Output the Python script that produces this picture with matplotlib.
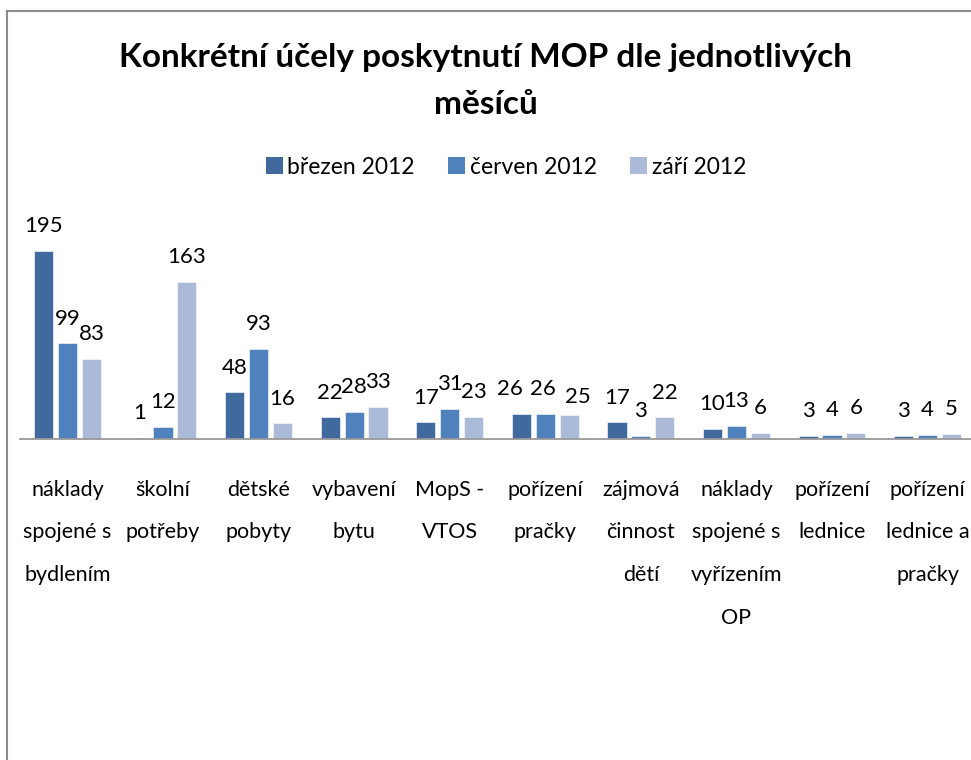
import numpy as np
import matplotlib
matplotlib.use("Agg")
import matplotlib.pyplot as plt
from matplotlib.patches import Rectangle, Patch

plt.rcParams['font.family'] = ['Lato', 'DejaVu Sans']

categories = ["náklady\nspojené s\nbydlením", "školní\npotřeby", "dětské\npobyty",
              "vybavení\nbytu", "MopS -\nVTOS", "pořízení\npračky", "zájmová\nčinnost\ndětí",
              "náklady\nspojené s\nvyřízením\nOP", "pořízení\nlednice", "pořízení\nlednice a\npračky"]
series_names = ["březen 2012", "červen 2012", "září 2012"]
brezen = [195, 1, 48, 22, 17, 26, 17, 10, 3, 3]
cerven = [99, 12, 93, 28, 31, 26, 3, 13, 4, 4]
zari = [83, 163, 16, 33, 23, 25, 22, 6, 6, 5]
colors = ["#406A9E", "#4F81BD", "#AABAD7"]

# labels that were dragged apart in the original (series, category) -> (dx, dy) in pt
nudges = {(0, 5): (-8, 0), (1, 5): (-2, 0), (2, 5): (6, -5)}

W, H = 971, 760
fig = plt.figure(figsize=(W / 100, H / 100), dpi=100)

# plot area placed in pixel terms
left_px, right_px = 19.7, 975.3
base_px, top_px = 438.7, 438.7 - 0.964 * 200
ax = fig.add_axes([left_px / W, (H - base_px) / H, (right_px - left_px) / W, (base_px - top_px) / H])

x = np.arange(len(categories))
for i, (vals, c) in enumerate(zip([brezen, cerven, zari], colors)):
    bars = ax.bar(x + (i - 1) * 0.25, vals, width=0.2, color=c, edgecolor="white",
                  linewidth=0.4, label=series_names[i])
    for j, (b, v) in enumerate(zip(bars, vals)):
        dx, dy = nudges.get((i, j), (0, 0))
        ax.annotate(str(v), (b.get_x() + b.get_width() / 2, v), xytext=(dx, 13.5 + dy),
                    textcoords="offset points", ha="center", va="baseline", fontsize=16)

ax.set_xlim(-0.5, len(categories) - 0.5)
ax.set_ylim(0, 200)
ax.set_yticks([])
for s in ["top", "right", "left"]:
    ax.spines[s].set_visible(False)
ax.spines["bottom"].set_color("#999999")
ax.spines["bottom"].set_linewidth(1.3)
ax.set_xticks(x)
ax.set_xticklabels(categories, fontsize=15.5, linespacing=2.42, va="top")
ax.tick_params(axis="x", length=0, pad=29.5)

fig.text(0.5, 1 - 58 / H, "Konkrétní účely poskytnutí MOP dle jednotlivých", ha="center",
         va="center", fontsize=24, fontweight="bold")
fig.text(0.5, 1 - 105 / H, "měsíců", ha="center", va="center", fontsize=24, fontweight="bold")

handles = [Patch(facecolor=c) for c in colors]
fig.legend(handles, series_names, loc="center", bbox_to_anchor=(506 / W, 1 - 167 / H), ncol=3,
           frameon=False, fontsize=16.5, handlelength=0.75, handleheight=0.75,
           handletextpad=0.2, columnspacing=1.45)

# outer chart border (runs off the right and bottom edges)
fig.patches.append(Rectangle((7 / W, -0.1), 1.2, 1.1 - 11 / H, transform=fig.transFigure,
                             fill=False, edgecolor="#8c8c8c", linewidth=1.5))

fig.savefig("out.png", dpi=100)
